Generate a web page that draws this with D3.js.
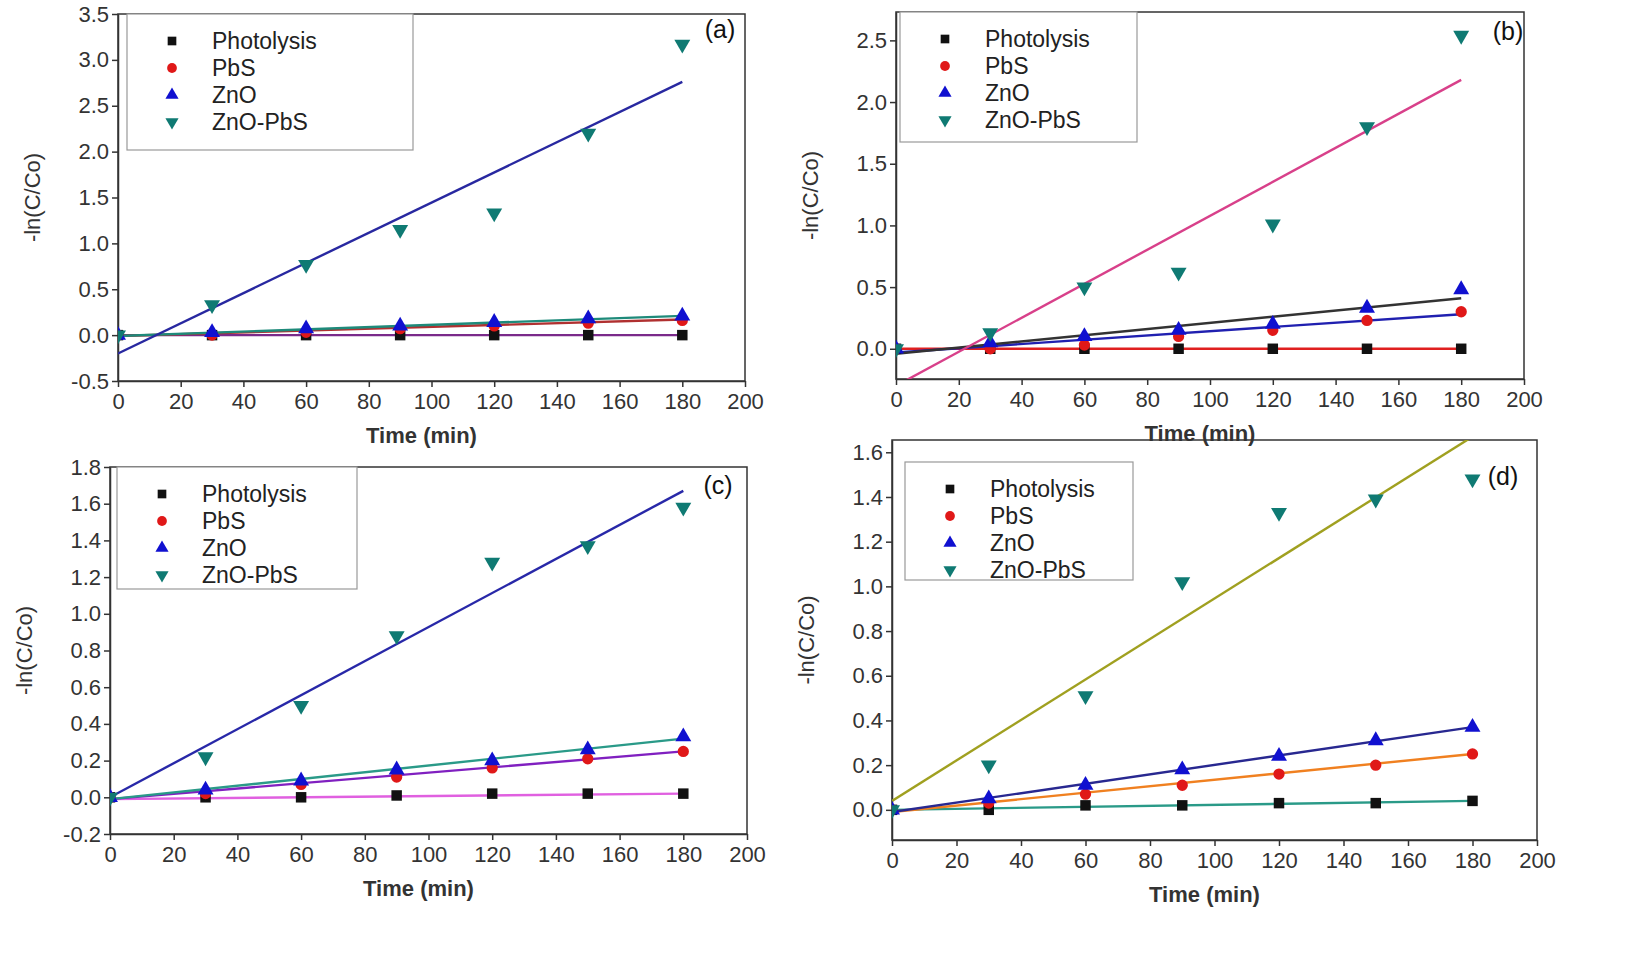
<!DOCTYPE html>
<html><head><meta charset="utf-8">
<script src="https://cdn.jsdelivr.net/npm/d3@7"></script>
<style>body{margin:0;background:#fff}text{font-family:"Liberation Sans",Arial,sans-serif}</style>
</head><body><svg id="c" width="1650" height="961"></svg>
<script>
const times = [0, 30, 60, 90, 120, 150, 180];
const seriesNames = ["Photolysis", "PbS", "ZnO", "ZnO-PbS"];
const markerColors = ["#111", "#e01818", "#1010d0", "#0f7a73"];

const aPhotolysis = [0, 0, 0, 0, 0, 0, 0];
const aPbS = [0, 0, 0.03, 0.07, 0.1, 0.13, 0.16];
const aZnO = [0, 0.03, 0.07, 0.1, 0.14, 0.18, 0.21];
const aZnOPbS = [0, 0.33, 0.77, 1.15, 1.33, 2.2, 3.17];
const bPhotolysis = [0, 0, 0, 0, 0, 0, 0];
const bPbS = [0, 0, 0.03, 0.1, 0.15, 0.23, 0.3];
const bZnO = [0, 0.05, 0.1, 0.15, 0.2, 0.33, 0.48];
const bZnOPbS = [0, 0.13, 0.5, 0.62, 1.01, 1.8, 2.54];
const cPhotolysis = [0, 0, 0, 0.01, 0.02, 0.02, 0.02];
const cPbS = [0, 0.02, 0.07, 0.11, 0.16, 0.21, 0.25];
const cZnO = [0, 0.04, 0.09, 0.15, 0.2, 0.26, 0.33];
const cZnOPbS = [0, 0.22, 0.5, 0.88, 1.28, 1.37, 1.58];
const dPhotolysis = [0, 0, 0.02, 0.02, 0.03, 0.03, 0.04];
const dPbS = [0, 0.03, 0.07, 0.11, 0.16, 0.2, 0.25];
const dZnO = [0, 0.05, 0.11, 0.18, 0.24, 0.31, 0.37];
const dZnOPbS = [0, 0.2, 0.51, 1.02, 1.33, 1.39, 1.48];

// fitted lines as [value at t=0, value at t=180]
const aFits = [[0, 0], [-0.01, 0.17], [-0.01, 0.21], [-0.2, 2.76]];
const bFits = [[0, 0], [-0.03, 0.28], [-0.04, 0.41], [-0.3, 2.18]];
const cFits = [[-0.01, 0.02], [-0.01, 0.25], [-0.01, 0.32], [0.0, 1.67]];
const dFits = [[0, 0.04], [-0.01, 0.25], [-0.01, 0.37], [0.04, 1.67]];
const aFitColors = ["#7a2a8a", "#b03030", "#1e8a7a", "#2828a0"];
const bFitColors = ["#e02020", "#2020b0", "#333", "#d8408a"];
const cFitColors = ["#e060e0", "#8020c0", "#2a9a88", "#2828a8"];
const dFitColors = ["#2a9a88", "#f08020", "#282890", "#a0a020"];

const panels = [
  {label: "(a)", data: [aPhotolysis, aPbS, aZnO, aZnOPbS], fits: aFits, fc: aFitColors,
   x0: 118, x1: 745, yT: 14, yB: 381, ydom: [-0.5, 3.5], yticks: d3.range(-0.5, 3.51, 0.5),
   leg: [127, 14, 286, 136], lab: [720, 38]},
  {label: "(b)", data: [bPhotolysis, bPbS, bZnO, bZnOPbS], fits: bFits, fc: bFitColors,
   x0: 896, x1: 1524, yT: 12, yB: 379, ydom: [-0.245, 2.73], yticks: d3.range(0, 2.51, 0.5),
   leg: [900, 12, 237, 130], lab: [1508, 40]},
  {label: "(c)", data: [cPhotolysis, cPbS, cZnO, cZnOPbS], fits: cFits, fc: cFitColors,
   x0: 110, x1: 747, yT: 467, yB: 834, ydom: [-0.2, 1.8], yticks: d3.range(-0.2, 1.81, 0.2),
   leg: [117, 467, 240, 122], lab: [718, 494]},
  {label: "(d)", data: [dPhotolysis, dPbS, dZnO, dZnOPbS], fits: dFits, fc: dFitColors,
   x0: 892, x1: 1537, yT: 440, yB: 840, ydom: [-0.135, 1.655], yticks: d3.range(0, 1.61, 0.2),
   leg: [905, 462, 228, 118], lab: [1503, 485]}
];

const svg = d3.select("#c");
const sym = [d3.symbolSquare, d3.symbolCircle, d3.symbolTriangle, d3.symbolTriangle];

panels.forEach(p => {
  const x = d3.scaleLinear().domain([0, 200]).range([p.x0, p.x1]);
  const y = d3.scaleLinear().domain(p.ydom).range([p.yB, p.yT]);
  const g = svg.append("g");
  g.append("rect").attr("x", p.x0).attr("y", p.yT).attr("width", p.x1 - p.x0).attr("height", p.yB - p.yT)
    .attr("fill", "none").attr("stroke", "#333").attr("stroke-width", 1.5);
  const xa = g.append("g").attr("transform", `translate(0,${p.yB})`)
    .call(d3.axisBottom(x).tickValues(d3.range(0, 201, 20)).tickSize(6).tickSizeOuter(0));
  const ya = g.append("g").attr("transform", `translate(${p.x0},0)`)
    .call(d3.axisLeft(y).tickValues(p.yticks).tickFormat(d => d3.format(".1f")(d).replace("\u2212", "-")).tickSize(6).tickSizeOuter(0));
  [xa, ya].forEach(a => {
    a.select(".domain").attr("stroke", "#333").attr("stroke-width", 1.5);
    a.selectAll("line").attr("stroke", "#333").attr("stroke-width", 1.5);
    a.selectAll("text").attr("font-size", 22).attr("fill", "#333");
  });
  xa.selectAll("text").attr("dy", "0.85em");
  g.append("text").attr("x", (p.x0 + p.x1) / 2 - 10).attr("y", p.yB + 62).attr("text-anchor", "middle")
    .attr("font-size", 22).attr("font-weight", "bold").attr("fill", "#333").text("Time (min)");
  g.append("text").attr("transform", `translate(${p.x0 - 78},${(p.yT + p.yB) / 2}) rotate(-90)`)
    .attr("text-anchor", "middle").attr("font-size", 22).attr("fill", "#333").text("-ln(C/Co)");

  const cid = "clip" + p.label.replace(/\W/g, "");
  g.append("clipPath").attr("id", cid).append("rect").attr("x", p.x0).attr("y", p.yT)
    .attr("width", p.x1 - p.x0).attr("height", p.yB - p.yT);
  const lg = g.append("g").attr("clip-path", `url(#${cid})`);
  p.fits.forEach((f, i) => {
    lg.append("line").attr("x1", x(0)).attr("y1", y(f[0])).attr("x2", x(180)).attr("y2", y(f[1]))
      .attr("stroke", p.fc[i]).attr("stroke-width", 2.4);
  });
  p.data.forEach((vals, i) => {
    lg.selectAll(null).data(vals).join("path")
      .attr("d", d3.symbol().type(sym[i]).size(i === 1 ? 100 : 110))
      .attr("transform", (v, j) => `translate(${x(times[j])},${y(v)})${i === 3 ? " rotate(180)" : ""}`)
      .attr("fill", markerColors[i]);
  });

  const [lx, ly, lw, lh] = p.leg;
  g.append("rect").attr("x", lx).attr("y", ly).attr("width", lw).attr("height", lh)
    .attr("fill", "#fff").attr("stroke", "#999").attr("stroke-width", 1.2);
  seriesNames.forEach((n, i) => {
    const yy = ly + 27 + i * 27;
    g.append("path").attr("d", d3.symbol().type(sym[i]).size(75))
      .attr("transform", `translate(${lx + 45},${yy})${i === 3 ? " rotate(180)" : ""}`).attr("fill", markerColors[i]);
    g.append("text").attr("x", lx + 85).attr("y", yy + 8).attr("font-size", 23).attr("fill", "#222").text(n);
  });
  g.append("text").attr("x", p.lab[0]).attr("y", p.lab[1]).attr("text-anchor", "middle")
    .attr("font-size", 25).attr("fill", "#111").text(p.label);
});
</script></body></html>
